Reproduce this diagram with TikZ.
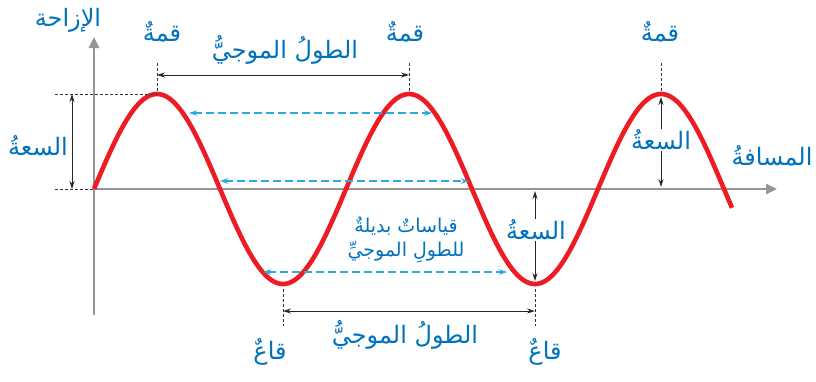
\documentclass[tikz,border=0pt]{standalone}
\usepackage{fontspec}
\newfontfamily\arabicfont[Script=Arabic]{DejaVu Sans}
\TeXXeTstate=1
\usetikzlibrary{arrows.meta}
\definecolor{txtblue}{RGB}{0,114,188}
\definecolor{wavered}{RGB}{237,28,36}
\definecolor{axisgray}{RGB}{150,150,150}
\definecolor{lightblue}{RGB}{41,171,226}
\newcommand{\arb}[1]{{\arabicfont\beginR #1\endR}}
\tikzset{
  lbl/.style={text=txtblue, font=\fontsize{24}{28}\selectfont\arabicfont, inner sep=1pt},
  lblsmall/.style={lbl, font=\fontsize{19}{22}\selectfont\arabicfont},
  lblw/.style={lbl, fill=white},
  axisline/.style={draw=axisgray, line width=2.6pt, -{Triangle[length=11pt,width=10pt]}},
  wave/.style={draw=wavered, line width=4.6pt},
  guide/.style={draw=black!80, line width=0.6pt, dash pattern=on 3pt off 2pt},
  dimarrow/.style={draw=black!85, line width=0.8pt, {Stealth[length=8pt,width=5pt]}-{Stealth[length=8pt,width=5pt]}},
  altarrow/.style={draw=lightblue, line width=1.1pt, dash pattern=on 8pt off 4pt, {Stealth[length=8pt,width=5.5pt]}-{Stealth[length=8pt,width=5.5pt]}}
}
\begin{document}
\begin{tikzpicture}[x=1pt,y=-1pt]
\useasboundingbox (0,0) rectangle (816,381);
% key points
\coordinate (O) at (94,189);
\coordinate (ybot) at (94,315);
\coordinate (ytop) at (94,37);
\coordinate (xend) at (777,189);
\coordinate (P1) at (157,94);
\coordinate (P2) at (409,94);
\coordinate (P3) at (661,94);
\coordinate (T1) at (283,284);
\coordinate (T2) at (535,284);
% axes
\draw[axisline] (ybot) -- (ytop);
\draw[axisline] (O) -- (xend);
% wave
\draw[wave] plot[domain=0:638,samples=300,smooth] (\x+94,{189-95*sin(\x*1.4285714)});
% left amplitude guides
\coordinate (gl1) at (55,94);
\coordinate (gl2) at (55,189);
\draw[guide] (gl1) -- (P1);
\draw[guide] (gl2) -- (O);
\coordinate (al1) at (72,94);
\coordinate (al2) at (72,189);
\draw[dimarrow] (al1) -- (al2);
% peak verticals
\coordinate (v1) at (157,63);
\coordinate (v2) at (409,63);
\coordinate (v3) at (661,63);
\coordinate (v1b) at (157,92);
\coordinate (v2b) at (409,92);
\coordinate (v3b) at (661,92);
\draw[guide] (v1) -- (v1b);
\draw[guide] (v2) -- (v2b);
\draw[guide] (v3) -- (v3b);
\coordinate (w1) at (157,75);
\coordinate (w2) at (409,75);
\draw[dimarrow] (w1) -- (w2);
% right amplitude
\coordinate (ar1) at (661,97);
\coordinate (ar2) at (661,187);
\draw[dimarrow] (ar1) -- (ar2);
% trough verticals
\coordinate (t1a) at (283,289);
\coordinate (t1b) at (283,326);
\coordinate (t2a) at (535,289);
\coordinate (t2b) at (535,326);
\draw[guide] (t1a) -- (t1b);
\draw[guide] (t2a) -- (t2b);
\coordinate (bw1) at (283,311);
\coordinate (bw2) at (535,311);
\draw[dimarrow] (bw1) -- (bw2);
% middle amplitude
\coordinate (am1) at (535,191);
\coordinate (am2) at (535,281);
\draw[dimarrow] (am1) -- (am2);
% alternative measurements
\coordinate (b1a) at (189,113);
\coordinate (b1b) at (432,113);
\coordinate (b2a) at (220,181);
\coordinate (b2b) at (469,181);
\coordinate (b3a) at (263,272);
\coordinate (b3b) at (507,272);
\draw[altarrow] (b1a) -- (b1b);
\draw[altarrow] (b2a) -- (b2b);
\draw[altarrow] (b3a) -- (b3b);
% labels
\node[lbl] (ylab) at (68,20) {\arb{الإزاحة}};
\node[lbl] (c1) at (162,32) {\arb{قمةٌ}};
\node[lbl] (c2) at (405,32) {\arb{قمةٌ}};
\node[lbl] (c3) at (660,32) {\arb{قمةٌ}};
\node[lbl] (wl1) at (285,50) {\arb{الطولُ الموجيُّ}};
\node[lbl] (amp1) at (38,146) {\arb{السعةُ}};
\node[lblw] (amp2) at (661,140) {\arb{السعةُ}};
\node[lblw] (amp3) at (536,230) {\arb{السعةُ}};
\node[lbl] (xlab) at (772,156) {\arb{المسافةُ}};
\node[lblsmall] (alt1) at (406,226) {\arb{قياساتٌ بديلةٌ}};
\node[lblsmall] (alt2) at (406,252) {\arb{للطولِ الموجيِّ}};
\node[lbl] (wl2) at (405,335) {\arb{الطولُ الموجيُّ}};
\node[lbl] (tr1) at (270,352) {\arb{قاعٌ}};
\node[lbl] (tr2) at (545,352) {\arb{قاعٌ}};
\end{tikzpicture}
\end{document}
